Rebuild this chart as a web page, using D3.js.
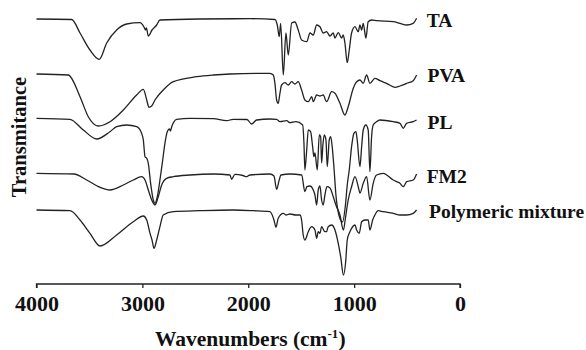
<!DOCTYPE html>
<html><head><meta charset="utf-8">
<script src="https://cdn.jsdelivr.net/npm/d3@7"></script>
<style>
html,body{margin:0;padding:0;background:#fff;}
svg{display:block;}
text{font-family:"Liberation Serif","Times New Roman",serif;font-weight:bold;fill:#111;}
</style></head>
<body>
<script>
// Wavenumber (cm-1), transmittance (a.u., stacked offsets)
const TA = [[4000,265],[3668,264.5],[3589,251],[3495,234],[3407,224.7],[3337,241],[3243,254],[3148,260],[3023,261.3],[2985,257],[2971,254],[2962,256],[2944,248],[2909,254],[2865,259],[2834,264],[2456,265],[1984,265.3],[1748,264.5],[1726,259],[1707,247.3],[1694,260.7],[1669,209],[1644,251],[1622,229],[1590,261],[1559,262],[1528,254],[1496,244],[1448,242.3],[1417,251],[1386,249],[1354,259],[1323,257.3],[1292,251],[1260,252.3],[1228,248],[1197,251],[1181,246],[1150,251.3],[1118,246],[1103,249],[1087,241],[1065,221.3],[1046,234],[1024,251],[992,257.3],[961,252.3],[945,259],[929,254],[914,260.7],[889,246],[867,262.3],[835,264],[788,263.3],[631,262.3],[567,260.7],[504,259],[442,260.7],[410,265.7]];
const PVA = [[4000,210],[3700,209],[3589,187.3],[3511,167.3],[3416,158],[3306,162.3],[3180,174],[3054,189],[2991,194.7],[2959,184],[2938,176.7],[2912,178],[2881,184],[2803,194],[2708,202.3],[2487,207.3],[2330,209],[2173,210],[1795,210.7],[1764,209],[1748,200.7],[1732,184],[1717,180.7],[1701,190.7],[1685,199],[1653,201.3],[1622,199],[1590,202.3],[1559,200],[1528,202.3],[1496,194],[1465,184],[1433,182.3],[1401,187.3],[1386,182.3],[1354,189],[1323,188],[1292,189],[1260,182.3],[1212,192.3],[1181,190.7],[1134,180.7],[1087,169],[1056,177.3],[1008,195.7],[976,202.3],[945,204],[914,200.7],[882,209],[851,200.7],[804,205.7],[756,203.3],[693,200.7],[615,196.7],[567,198],[504,200.7],[442,203.3],[410,209]];
const PL = [[4000,165.7],[3684,164.7],[3558,154],[3432,145],[3306,152.3],[3243,157.3],[3148,159],[3054,157.3],[3007,150.7],[2991,144],[2975,127.3],[2959,125.7],[2944,120.7],[2922,100.7],[2897,84],[2881,80.7],[2859,87.3],[2834,104],[2808,124],[2787,140.7],[2765,152.3],[2744,155],[2735,153],[2723,157.3],[2676,164.7],[2550,165.7],[2330,165.3],[2204,163.3],[2142,164.7],[2012,164.5],[1968,160],[1921,164],[1795,165],[1732,164.7],[1701,162.3],[1637,163.3],[1606,161.3],[1550,162.3],[1486,159],[1474,141],[1465,114],[1448,134],[1433,154],[1411,152.3],[1392,137.3],[1380,127.3],[1370,131],[1348,114],[1329,149],[1316,147.3],[1307,121],[1295,139],[1282,149],[1266,144],[1254,117.3],[1235,144],[1222,147.3],[1207,137.3],[1191,117.3],[1172,89],[1144,69],[1110,62],[1082,79],[1065,99],[1046,114],[1024,137.3],[1002,150.7],[983,152.3],[971,144],[945,117.3],[929,137.3],[914,154],[889,159],[867,154],[851,112.3],[835,147.3],[820,159],[788,162.3],[756,164],[631,162.3],[567,160.7],[536,155.7],[504,160.7],[442,162.3],[410,164]];
const FM2 = [[4000,110.7],[3646,110],[3526,104],[3400,96.7],[3306,94],[3180,99],[3086,104],[3007,107.3],[2975,104],[2944,94],[2912,84],[2881,79],[2850,87.3],[2818,99],[2771,105.7],[2708,107.3],[2550,109],[2330,110],[2173,109],[2157,104.7],[2126,109.7],[2050,108.5],[2015,107.3],[1984,109],[1795,110],[1757,108],[1732,94.7],[1710,103],[1691,109],[1606,110],[1496,109],[1465,92.3],[1446,97.3],[1417,98],[1386,94],[1370,89],[1354,79],[1339,94],[1323,98],[1307,84],[1292,79],[1276,89],[1257,97.3],[1228,96],[1197,87.3],[1172,79],[1134,69],[1101,54],[1082,66],[1056,84],[1024,97.3],[992,107.3],[961,97.3],[945,91],[914,100.7],[882,107.3],[851,84],[820,100.7],[788,109],[725,110.7],[631,104],[599,102.3],[567,100.7],[536,97.3],[504,102.3],[442,104],[410,110]];
const MIX = [[4000,74],[3684,73.3],[3589,64],[3495,50.7],[3400,38],[3243,49],[3086,62.3],[2991,68],[2959,64],[2928,50.7],[2909,44],[2890,35.7],[2865,44],[2834,57.3],[2803,69],[2708,72.3],[2456,73.3],[2142,74],[1953,73.3],[1795,72.3],[1757,64],[1738,56.7],[1717,65.7],[1669,70.7],[1644,69],[1606,70],[1550,69],[1512,69],[1496,64],[1481,49],[1465,44],[1433,52.3],[1401,57.3],[1370,54],[1354,45.7],[1339,52.3],[1323,50.7],[1307,57.3],[1276,52.3],[1260,52.3],[1245,57.3],[1212,59],[1181,54],[1150,40.7],[1127,27.3],[1101,9],[1080,22],[1065,44],[1046,50.7],[1024,55.7],[992,59],[976,54],[952,50.7],[929,62.3],[898,64],[867,64],[851,54],[825,64],[804,69],[772,73.3],[725,72.3],[631,70.7],[567,69],[504,69],[442,70.7],[410,74]];

const seriesNames = ["TA","PVA","PL","FM2","Polymeric mixture"];
const seriesData = [TA, PVA, PL, FM2, MIX];
const labelLevels = [257.3, 202.3, 154.7, 100.7, 66]; // label baselines in transmittance units
const xTicks = [4000, 3000, 2000, 1000, 0];
const xTitle = "Wavenumbers (cm";
const yTitle = "Transmitance";

const W = 586, H = 350;
const svg = d3.select("body").append("svg").attr("width", W).attr("height", H);

const x = d3.scaleLinear().domain([4000, 0]).range([36.5, 460]);
const y = d3.scaleLinear().domain([0, 284]).range([284, 0]);

const line = d3.line().x(d => x(d[0])).y(d => y(d[1])).curve(d3.curveMonotoneX);

svg.append("g").selectAll("path").data(seriesData).join("path")
  .attr("d", line).attr("fill", "none").attr("stroke", "#222").attr("stroke-width", 1.3)
  .attr("stroke-linejoin", "round");

// labels
const labelX = [426.7, 427.5, 427.5, 426.7, 429];
svg.append("g").selectAll("text").data(seriesNames).join("text")
  .attr("x", (d, i) => labelX[i]).attr("y", (d, i) => y(labelLevels[i]))
  .attr("font-size", 19.5).text(d => d);

// x axis
const ax = svg.append("g").attr("transform", `translate(0,${y(0)})`)
  .call(d3.axisBottom(x).tickValues(xTicks).tickSize(4).tickPadding(8).tickFormat(d3.format("d")));
ax.select(".domain").attr("stroke", "#222").attr("stroke-width", 1.3).attr("d", `M${x(4000)},4V0H${x(0)}V4`);
ax.selectAll(".tick line").attr("stroke", "#222").attr("stroke-width", 1.3);
ax.selectAll(".tick text").attr("font-size", 22).attr("font-family", "Liberation Serif, Times New Roman, serif")
  .attr("font-weight", "bold").attr("fill", "#111").attr("dy", null).attr("y", 27);

const t = svg.append("text").attr("x", (x(4000) + x(0)) / 2 + 2).attr("y", 346)
  .attr("text-anchor", "middle").attr("font-size", 21.5);
t.append("tspan").text(xTitle);
t.append("tspan").attr("font-size", 13).attr("dy", -8).text("-1");
t.append("tspan").attr("dy", 8).text(")");

svg.append("text").attr("transform", "translate(26,137) rotate(-90)")
  .attr("text-anchor", "middle").attr("font-size", 20.5).text(yTitle);
</script>
</body></html>
